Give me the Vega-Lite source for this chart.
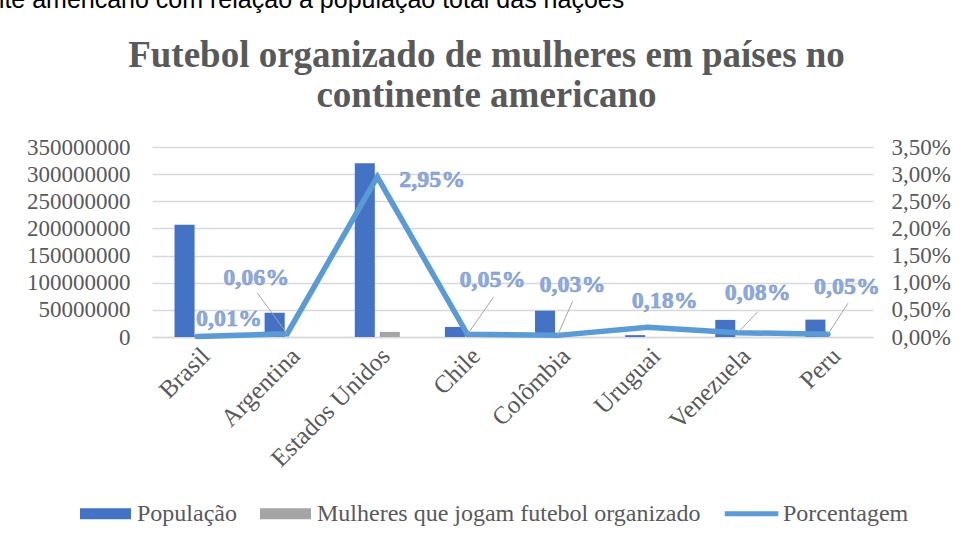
{
  "$schema": "https://vega.github.io/schema/vega-lite/v6.json",
  "width": 721,
  "height": 190,
  "autosize": {"type": "none"},
  "padding": {"left": 152, "top": 147, "right": 89, "bottom": 208},
  "background": "white",
  "config": {
    "locale": {"number": {"decimal": ",", "thousands": ".", "grouping": [3], "currency": ["R$", ""]}},
    "view": {"stroke": null},
    "font": "Liberation Serif",
    "axis": {"labelFont": "Liberation Serif", "labelFontSize": 23, "labelColor": "#595959", "ticks": false, "domain": false, "gridColor": "#D9D9D9", "gridWidth": 1.5}
  },
  "title": {
    "text": ["Futebol organizado de mulheres em países no", "continente americano"],
    "font": "Liberation Serif",
    "fontSize": 37,
    "fontWeight": "bold",
    "color": "#595959",
    "anchor": "middle",
    "frame": "group",
    "dx": -26,
    "offset": -128,
    "lineHeight": 40
  },
  "datasets": {
    "barras": [
      {"pais": "Brasil", "serie": "População", "valor": 207000000},
      {"pais": "Brasil", "serie": "Mulheres que jogam futebol organizado", "valor": 20700},
      {"pais": "Argentina", "serie": "População", "valor": 44500000},
      {"pais": "Argentina", "serie": "Mulheres que jogam futebol organizado", "valor": 26700},
      {"pais": "Estados Unidos", "serie": "População", "valor": 320000000},
      {"pais": "Estados Unidos", "serie": "Mulheres que jogam futebol organizado", "valor": 9440000},
      {"pais": "Chile", "serie": "População", "valor": 18500000},
      {"pais": "Chile", "serie": "Mulheres que jogam futebol organizado", "valor": 9250},
      {"pais": "Colômbia", "serie": "População", "valor": 48500000},
      {"pais": "Colômbia", "serie": "Mulheres que jogam futebol organizado", "valor": 14550},
      {"pais": "Uruguai", "serie": "População", "valor": 3440000},
      {"pais": "Uruguai", "serie": "Mulheres que jogam futebol organizado", "valor": 6190},
      {"pais": "Venezuela", "serie": "População", "valor": 31500000},
      {"pais": "Venezuela", "serie": "Mulheres que jogam futebol organizado", "valor": 25200},
      {"pais": "Peru", "serie": "População", "valor": 32000000},
      {"pais": "Peru", "serie": "Mulheres que jogam futebol organizado", "valor": 16000}
    ],
    "pct": [
      {"pais": "Brasil", "pct": 0.0001},
      {"pais": "Argentina", "pct": 0.0006},
      {"pais": "Estados Unidos", "pct": 0.0295},
      {"pais": "Chile", "pct": 0.0005},
      {"pais": "Colômbia", "pct": 0.0003},
      {"pais": "Uruguai", "pct": 0.0018},
      {"pais": "Venezuela", "pct": 0.0008},
      {"pais": "Peru", "pct": 0.0005}
    ]
  },
  "encoding": {
    "x": {
      "field": "pais",
      "type": "nominal",
      "sort": ["Brasil", "Argentina", "Estados Unidos", "Chile", "Colômbia", "Uruguai", "Venezuela", "Peru"],
      "scale": {"paddingInner": 0.5, "paddingOuter": 0.25},
      "axis": {"title": null, "labelAngle": -45, "labelAlign": "right", "labelBaseline": "top", "labelPadding": 6, "domain": true, "domainColor": "#D9D9D9", "domainWidth": 1.5, "grid": false, "labelFontSize": 25}
    }
  },
  "layer": [
    {
      "data": {"name": "barras"},
      "mark": {"type": "bar"},
      "encoding": {
        "xOffset": {"field": "serie", "type": "nominal", "sort": ["População", "Mulheres que jogam futebol organizado"], "scale": {"paddingInner": 0.2, "paddingOuter": 0}},
        "y": {
          "field": "valor",
          "type": "quantitative",
          "scale": {"domain": [0, 350000000]},
          "axis": {
            "orient": "left",
            "values": [0, 50000000, 100000000, 150000000, 200000000, 250000000, 300000000, 350000000],
            "format": "d",
            "grid": true,
            "labelPadding": 22,
            "title": "nte americano com relação à população total das nações",
            "titleFont": "Liberation Sans",
            "titleFontSize": 25,
            "titleFontWeight": "normal",
            "titleColor": "#000000",
            "titleAngle": 0,
            "titleAlign": "left",
            "titleBaseline": "alphabetic",
            "titleX": -162,
            "titleY": -140
          }
        },
        "color": {
          "field": "serie",
          "type": "nominal",
          "scale": {"domain": ["População", "Mulheres que jogam futebol organizado", "Porcentagem"], "range": ["#4472C4", "#A5A5A5", "#5B9BD5"]},
          "legend": {
            "title": null,
            "orient": "none",
            "legendX": -72,
            "legendY": 341,
            "direction": "horizontal",
            "symbolType": "M-1,-0.22H1V0.22H-1Z",
            "symbolSize": 2601,
            "symbolStrokeWidth": 0,
            "labelFont": "Liberation Serif",
            "labelFontSize": 24,
            "labelColor": "#595959",
            "labelOffset": 6,
            "labelLimit": 600,
            "columnPadding": 23,
            "padding": 0,
            "encode": {
              "symbols": {
                "update": {
                  "shape": {"signal": "datum.value === 'Porcentagem' ? 'M-1.05,-0.1H1.05V0.1H-1.05Z' : 'M-1,-0.22H1V0.22H-1Z'"},
                  "fill": {"scale": "color", "field": "value"},
                  "stroke": {"value": "transparent"},
                  "opacity": {"value": 1}
                }
              }
            }
          }
        }
      }
    },
    {
      "data": {"name": "pct"},
      "encoding": {
        "y": {
          "field": "pct",
          "type": "quantitative",
          "scale": {"domain": [0, 0.035]},
          "axis": {
            "orient": "right",
            "values": [0, 0.005, 0.01, 0.015, 0.02, 0.025, 0.03, 0.035],
            "format": ".2%",
            "grid": false,
            "labelPadding": 18,
            "title": null
          }
        }
      },
      "layer": [
        {
          "mark": {"type": "line", "strokeWidth": 5.5, "strokeCap": "round", "strokeJoin": "miter"},
          "encoding": {
            "color": {"datum": "Porcentagem", "type": "nominal"}
          }
        },
        {
          "transform": [{"filter": "indexof(['Argentina','Chile','Colômbia','Venezuela','Peru'], datum.pais) >= 0"}],
          "mark": {
            "type": "rule",
            "color": "#A6A6A6",
            "strokeWidth": 1,
            "x2Offset": {"expr": "({'Argentina': -30, 'Chile': 26, 'Colômbia': 15, 'Venezuela': 20, 'Peru': 20})[datum.pais]"},
            "y2Offset": {"expr": "({'Argentina': -41, 'Chile': -37, 'Colômbia': -34, 'Venezuela': -21, 'Peru': -31})[datum.pais]"}
          },
          "encoding": {
            "x2": {"field": "pais"},
            "y2": {"field": "pct"}
          }
        },
        {
          "mark": {
            "type": "text",
            "font": "Liberation Serif",
            "fontSize": 24,
            "fontWeight": "bold",
            "fill": "#8EAADB",
            "stroke": "#7593CE",
            "strokeWidth": 0.5,
            "align": "center",
            "baseline": "middle",
            "dx": {"expr": "({'Brasil': 32, 'Argentina': -31, 'Estados Unidos': 55, 'Chile': 25, 'Colômbia': 15, 'Uruguai': 17, 'Venezuela': 20, 'Peru': 19})[datum.pais]"},
            "dy": {"expr": "({'Brasil': -17, 'Argentina': -56, 'Estados Unidos': 3, 'Chile': -54, 'Colômbia': -50, 'Uruguai': -26, 'Venezuela': -40, 'Peru': -47})[datum.pais]"}
          },
          "encoding": {
            "text": {"field": "pct", "type": "quantitative", "format": ".2%"}
          }
        }
      ]
    }
  ],
  "resolve": {"scale": {"y": "independent"}}
}
